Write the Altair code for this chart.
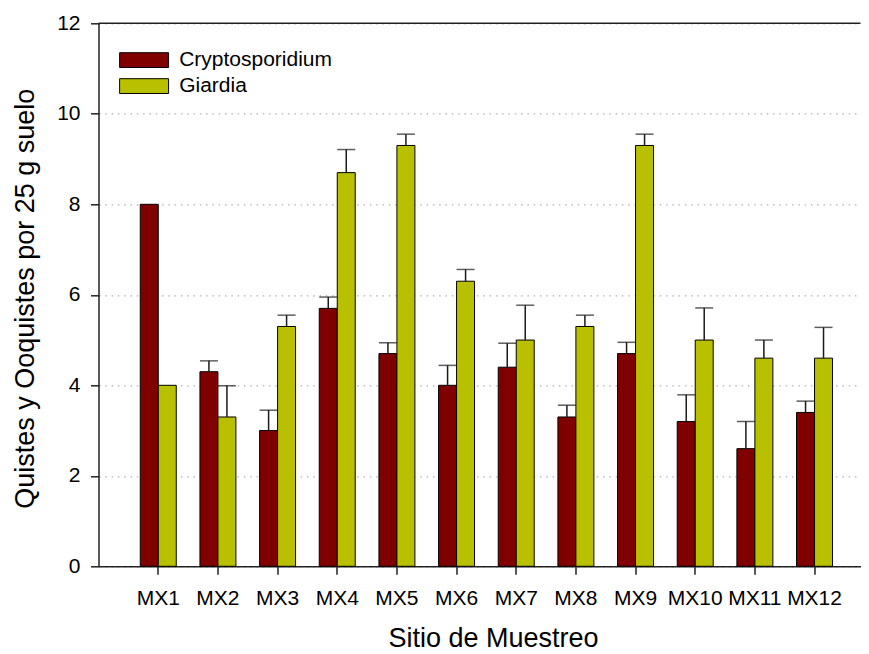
import altair as alt
import pandas as pd

sites = ["MX1", "MX2", "MX3", "MX4", "MX5", "MX6", "MX7", "MX8", "MX9", "MX10", "MX11", "MX12"]
series_names = ["Cryptosporidium", "Giardia"]
colors = ["#800000", "#b8c000"]

crypto = [8.0, 4.3, 3.0, 5.7, 4.7, 4.0, 4.4, 3.3, 4.7, 3.2, 2.6, 3.4]
crypto_err = [0.0, 0.24, 0.45, 0.25, 0.24, 0.44, 0.53, 0.26, 0.25, 0.59, 0.60, 0.25]
giardia = [4.0, 3.3, 5.3, 8.7, 9.3, 6.3, 5.0, 5.3, 9.3, 5.0, 4.6, 4.6]
giardia_err = [0.0, 0.69, 0.25, 0.51, 0.25, 0.26, 0.77, 0.25, 0.25, 0.71, 0.40, 0.68]
y_ticks = [0, 2, 4, 6, 8, 10, 12]

rows = []
for name, vals, errs in [(series_names[0], crypto, crypto_err), (series_names[1], giardia, giardia_err)]:
    for s, v, e in zip(sites, vals, errs):
        rows.append({"site": s, "series": name, "value": v, "err": e, "upper": v + e})
df = pd.DataFrame(rows)

FONT = "Liberation Sans"

x_enc = alt.X(
    "site:N",
    sort=sites,
    scale=alt.Scale(paddingInner=0.397, paddingOuter=0.5845, align=0.599),
    axis=alt.Axis(
        title="Sitio de Muestreo",
        labelAngle=0,
        tickSize=8,
        tickWidth=1.5,
        tickColor="#222222",
        domainColor="#222222",
        domainWidth=1.5,
        labelFontSize=21,
        labelColor="black",
        labelPadding=13,
        titleFontSize=27,
        titleFontWeight="normal",
        titleColor="black",
        titleBaseline="alphabetic",
        titleAlign="center",
        titleX=394.5,
        titleY=80.5,
        grid=False,
    ),
)
xoff = alt.XOffset("series:N", sort=series_names)
y_scale = alt.Scale(domain=[0, 12], nice=False)
y_enc = alt.Y(
    "value:Q",
    scale=y_scale,
    axis=alt.Axis(
        title="Quistes y Ooquistes por 25 g suelo",
        values=y_ticks,
        tickSize=8,
        tickWidth=1.5,
        tickColor="#222222",
        domainColor="#222222",
        domainWidth=1.5,
        labelFontSize=21,
        labelColor="black",
        labelPadding=10.5,
        titleFontSize=27,
        titleFontWeight="normal",
        titleColor="black",
        titleBaseline="alphabetic",
        titleAlign="center",
        titleAngle=270,
        titleX=-65.2,
        titleY=275,
        grid=True,
        gridColor="#b0b0b0",
        gridDash=[1.5, 4.8],
        gridWidth=1.2,
    ),
)

base = alt.Chart(df)

bars = base.mark_bar(stroke="black", strokeWidth=1, opacity=1).encode(
    x=x_enc,
    xOffset=xoff,
    y=y_enc,
    color=alt.Color(
        "series:N",
        sort=series_names,
        scale=alt.Scale(domain=series_names, range=colors),
        legend=alt.Legend(
            title=None,
            orient="none",
            legendX=35.1,
            legendY=26.3,
            symbolType="M-3.31,-1H3.31V1H-3.31Z",
            symbolSize=219,
            symbolStrokeColor="black",
            symbolStrokeWidth=1,
            symbolOpacity=1,
            labelFontSize=21,
            labelColor="black",
            labelOffset=24.6,
            rowPadding=4,
            padding=0,
        ),
    ),
)

errs = base.transform_filter("datum.err > 0").mark_rule(color="#1a1a1a", strokeWidth=1.5).encode(
    x=alt.X("site:N", sort=sites),
    xOffset=xoff,
    y=alt.Y("value:Q", scale=y_scale),
    y2="upper:Q",
)

caps = base.transform_filter("datum.err > 0").mark_tick(
    color="#1a1a1a", size=18, thickness=1.5, orient="horizontal"
).encode(
    x=alt.X("site:N", sort=sites),
    xOffset=xoff,
    y=alt.Y("upper:Q", scale=y_scale),
)

top = alt.Chart(pd.DataFrame({"top": [y_ticks[-1]]})).mark_rule(color="#222222", strokeWidth=1.5).encode(
    y=alt.Y("top:Q", scale=y_scale)
)

chart = (
    alt.layer(bars, errs, caps, top)
    .properties(
        width=762,
        height=543,
        autosize=alt.AutoSizeParams(type="none"),
        padding={"left": 90.5, "top": 15.3, "right": 0, "bottom": 87},
    )
    .configure(font=FONT)
    .configure_view(stroke=None)
)

chart.save("out.html", embed_options={"renderer": "svg", "actions": False})
